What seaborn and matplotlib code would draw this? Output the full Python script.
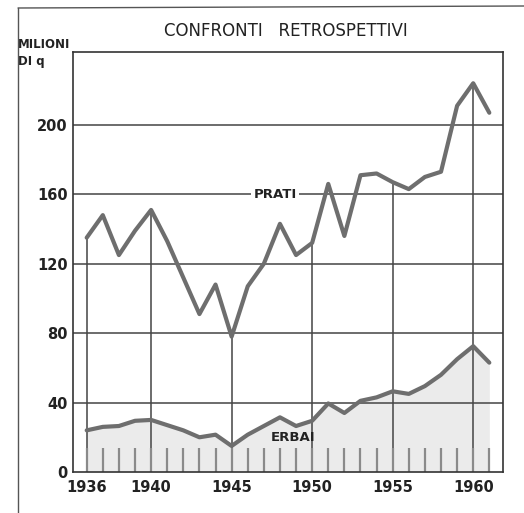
import matplotlib
matplotlib.use("Agg")
import matplotlib.pyplot as plt
import seaborn as sns
import pandas as pd

# Produzione annua (milioni di quintali)
anni = list(range(1936, 1962))
prati = [135, 148, 125, 139, 151, 133, 112, 91, 108, 78, 107, 120, 143, 125, 132,
         166, 136, 171, 172, 167, 163, 170, 173, 211, 224, 207]
erbai = [24, 26, 26.5, 29.5, 30, 27, 24, 20, 21.5, 15, 21.5, 26.5, 31.5, 26.5, 29.5,
         39.5, 34, 41, 43, 46.5, 45, 49.5, 56, 65, 72.5, 63]
anni_tick = [1936, 1940, 1945, 1950, 1955, 1960]
valori_tick = [0, 40, 80, 120, 160, 200]

df = pd.DataFrame({"anno": anni, "PRATI": prati, "ERBAI": erbai})
lunga = df.melt(id_vars="anno", var_name="coltura", value_name="valore")

sns.set_theme(style="white")
plt.rcParams["font.family"] = ["DejaVu Sans"]

fig = plt.figure(figsize=(5.24, 5.13), dpi=100)
ax = fig.add_axes([73 / 524, 1 - 472 / 513, 430 / 524, 420 / 513])

ink = "#444444"
linea = "#6e6e6e"

# area chiara sotto gli erbai
ax.fill_between(df["anno"], 0, df["ERBAI"], color="#ebebeb", lw=0, zorder=0)

# griglia orizzontale
for v in valori_tick[1:]:
    ax.axhline(v, color=ink, lw=1.1, zorder=1)

# linee verticali dagli anni principali fino alla curva dei prati
for a in anni_tick:
    ax.vlines(a, 0, df.loc[df["anno"] == a, "PRATI"].iloc[0], color=ink, lw=1.1, zorder=1)

# tacche annuali alla base
ax.vlines(df["anno"], 0, 14, color="#8a8a8a", lw=1.6, zorder=1)

sns.lineplot(data=lunga, x="anno", y="valore", units="coltura", estimator=None,
             color=linea, lw=3.0, ax=ax, zorder=3, legend=False)

ax.set_xlim(1935.15, 1961.85)
ax.set_ylim(0, 242)
ax.set_xticks(anni_tick)
ax.set_yticks(valori_tick)
ax.set_xticklabels([str(a) for a in anni_tick], fontsize=10.5, fontweight="bold", color="#222222")
ax.set_yticklabels([str(v) for v in valori_tick], fontsize=10.5, fontweight="bold", color="#222222")
ax.tick_params(axis="x", length=0, pad=6)
ax.tick_params(axis="y", length=0, pad=4)
ax.set_xlabel("")
ax.set_ylabel("")
for s in ax.spines.values():
    s.set_color("#333333")
    s.set_linewidth(1.2)

ax.text(1947.7, 160, "PRATI", ha="center", va="center", fontsize=9.5, fontweight="bold",
        color="#222222", zorder=4,
        bbox=dict(facecolor="white", edgecolor="none", pad=1.5))
ax.text(1948.8, 20, "ERBAI", ha="center", va="center", fontsize=9.5, fontweight="bold",
        color="#222222", zorder=4)

fig.text(0.546, 1 - 31 / 513, "CONFRONTI   RETROSPETTIVI", ha="center", va="center",
         fontsize=12, color="#222222")
fig.text(18 / 524, 1 - 53 / 513, "MILIONI\nDI q", ha="left", va="center",
         fontsize=8.5, fontweight="bold", color="#222222", linespacing=1.35)

# cornice esterna
fig.add_artist(plt.Line2D([18 / 524, 18 / 524], [0, 1 - 8 / 513], color="#555555", lw=1.0))
fig.add_artist(plt.Line2D([18 / 524, 1], [1 - 8 / 513, 1 - 6 / 513], color="#555555", lw=1.0))

fig.savefig("out.png", dpi=100, facecolor="white")
